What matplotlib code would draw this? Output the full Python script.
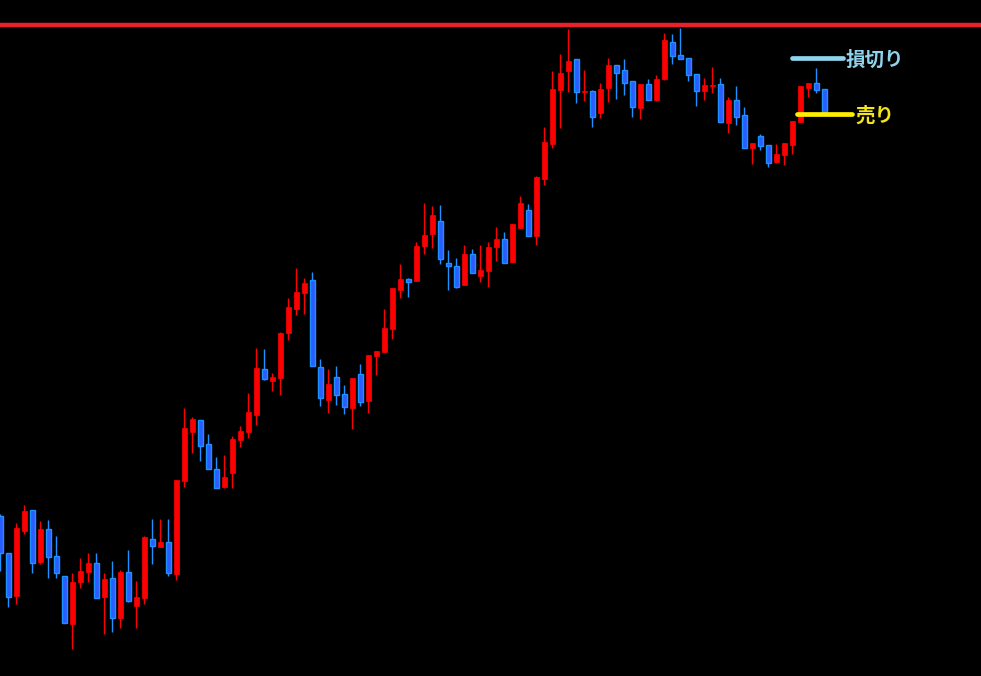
import matplotlib
matplotlib.use("Agg")
import matplotlib.pyplot as plt
import numpy as np

opens = [141.60,141.23,140.80,141.45,141.66,141.14,141.47,141.20,141.00,140.52,
         140.94,141.04,141.13,140.79,140.98,140.58,141.04,140.70,140.78,141.37,
         141.29,141.34,141.02,141.95,142.44,142.56,142.32,142.07,141.89,142.03,
         142.36,142.44,142.61,143.07,142.95,142.98,143.43,143.67,143.83,143.96,
         143.09,142.76,142.99,142.82,142.68,143.02,142.75,143.20,143.24,143.47,
         143.86,143.97,143.95,144.30,144.42,144.55,144.13,144.10,143.91,144.22,
         144.00,144.05,144.29,144.37,144.14,144.48,144.66,144.40,144.97,145.32,
         145.86,146.05,146.17,145.84,145.85,145.63,145.88,146.11,146.06,145.95,
         145.68,145.92,145.76,145.97,146.34,146.21,146.18,146.02,145.85,145.90,
         145.92,145.53,145.76,145.61,145.28,145.40,145.31,145.14,145.21,145.31,
         145.54,145.88,145.93,145.87]
highs = [141.62,141.23,141.53,141.71,141.66,141.55,141.56,141.40,141.00,141.03,
         141.18,141.23,141.23,141.03,141.15,141.06,141.26,140.95,141.40,141.57,
         141.57,141.57,141.96,142.68,142.59,142.56,142.42,142.19,142.21,142.40,
         142.50,142.83,143.28,143.27,143.03,143.44,143.78,144.08,143.98,144.04,
         143.17,143.07,143.10,142.91,142.98,143.12,143.21,143.25,143.67,143.88,
         144.12,143.98,144.34,144.73,144.70,144.71,144.26,144.18,144.31,144.27,
         144.31,144.34,144.49,144.44,144.52,144.80,144.72,145.00,145.49,146.05,
         146.22,146.47,146.17,146.06,145.86,145.93,146.18,146.11,146.17,145.95,
         145.92,145.97,146.01,146.43,146.42,146.48,146.18,146.02,145.98,146.09,
         145.98,145.79,145.90,145.69,145.33,145.42,145.31,145.32,145.33,145.55,
         145.90,145.93,146.08,145.87]
lows = [141.05,140.69,140.72,141.42,141.03,141.12,140.98,140.98,140.53,140.27,
        140.88,140.94,140.78,140.42,140.44,140.48,140.74,140.48,140.72,141.12,
        141.29,141.00,140.96,141.89,142.23,142.15,142.07,141.88,141.88,141.88,
        142.29,142.38,142.51,142.96,142.85,142.81,143.36,143.61,143.62,143.10,
        142.70,142.63,142.71,142.62,142.47,142.70,142.63,143.01,143.24,143.37,
        143.78,143.79,143.95,144.22,144.28,144.12,143.86,143.88,143.91,144.03,
        143.94,143.89,144.15,144.13,144.14,144.48,144.40,144.31,144.91,145.28,
        145.48,145.84,145.73,145.75,145.49,145.58,145.74,145.77,145.81,145.59,
        145.57,145.76,145.75,145.96,146.12,146.17,145.95,145.70,145.76,145.83,
        145.54,145.43,145.51,145.28,145.12,145.26,145.09,145.13,145.11,145.22,
        145.54,145.79,145.83,145.64]
closes = [141.23,140.79,141.48,141.65,141.13,141.47,141.19,141.03,140.53,140.94,
          141.05,141.13,140.78,140.97,140.58,141.04,140.75,140.79,141.39,141.30,
          141.34,141.03,141.96,142.48,142.57,142.30,142.07,141.88,141.99,142.37,
          142.45,142.64,143.08,142.97,142.99,143.43,143.69,143.84,143.93,143.10,
          142.78,142.92,142.81,142.69,142.98,142.74,143.21,143.25,143.48,143.88,
          143.97,143.94,144.30,144.41,144.61,144.17,144.10,143.89,144.22,144.03,
          144.06,144.29,144.37,144.13,144.52,144.73,144.40,144.99,145.34,145.87,
          146.03,146.15,145.84,145.85,145.59,145.87,146.11,146.03,145.93,145.69,
          145.92,145.76,145.97,146.36,146.20,146.17,146.01,145.85,145.91,145.91,
          145.54,145.76,145.59,145.28,145.33,145.30,145.13,145.22,145.33,145.55,
          145.90,145.93,145.86,145.64]

resistance_level = 146.505
stop_level = 146.18
sell_level = 145.62
stop_label = "損切り"
sell_label = "売り"

UP = "#ff0000"
DOWN_FILL = "#2a5cff"
DOWN_EDGE = "#1e90ff"

fig = plt.figure(figsize=(9.81, 6.76), dpi=100, facecolor="black")
ax = fig.add_axes([0, 0, 1, 1])
ax.set_facecolor("black")
ax.set_axis_off()

x = np.arange(len(opens))
o = np.array(opens); h = np.array(highs); l = np.array(lows); c = np.array(closes)
up = c >= o

ax.vlines(x[up], l[up], h[up], color=UP, linewidth=1.0, zorder=2)
ax.vlines(x[~up], l[~up], h[~up], color=DOWN_EDGE, linewidth=1.0, zorder=2)

bw = 0.62
body_up = np.maximum(c[up] - o[up], 0.006)
ax.bar(x[up], body_up, bottom=o[up], width=bw, color=UP, edgecolor=UP,
       linewidth=0.5, zorder=3)
body_dn = np.maximum(o[~up] - c[~up], 0.006)
ax.bar(x[~up], body_dn, bottom=c[~up], width=bw, color=DOWN_FILL,
       edgecolor=DOWN_EDGE, linewidth=1.0, zorder=3)

ax.axhline(resistance_level, color="#e8212a", linewidth=3.2, zorder=4)

ax.plot([99.0, 105.35], [stop_level, stop_level], color="#8fd3ec",
        linewidth=3.4, solid_capstyle="round", zorder=5)
ax.plot([99.65, 106.5], [sell_level, sell_level], color="#ffee00",
        linewidth=3.4, solid_capstyle="round", zorder=5)

ax.text(105.65, stop_level - 0.02, stop_label, color="#8fd3ec", fontsize=14,
        fontweight="bold", family=["Noto Sans CJK JP", "DejaVu Sans"],
        va="center", ha="left", zorder=6)
ax.text(106.85, sell_level - 0.02, sell_label, color="#f5e41a", fontsize=14,
        fontweight="bold", family=["Noto Sans CJK JP", "DejaVu Sans"],
        va="center", ha="left", zorder=6)

ax.set_xlim(-0.0375, 122.59)
ax.set_ylim(140.00, 146.76)

fig.savefig("out.png", dpi=100, facecolor="black")
